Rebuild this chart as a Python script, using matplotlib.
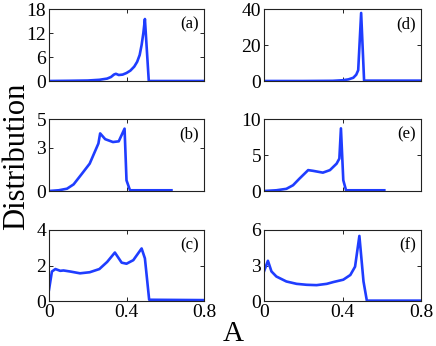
import matplotlib
matplotlib.use("Agg")
import matplotlib.pyplot as plt

plt.rcParams["font.family"] = ["Liberation Serif", "DejaVu Serif"]

LINE_COLOR = "#1f3dff"

# data: A values and distribution values per panel
a_x = [0.0, 0.1, 0.2, 0.26, 0.3, 0.32, 0.335, 0.345, 0.36, 0.38, 0.40, 0.42, 0.44,
       0.455, 0.468, 0.478, 0.487, 0.495, 0.515, 0.8]
a_y = [0.0, 0.05, 0.12, 0.3, 0.6, 1.0, 1.6, 1.8, 1.5, 1.6, 2.0, 2.6, 3.6,
       4.8, 6.5, 9.0, 12.0, 15.5, 0.0, 0.0]

b_x = [0.0, 0.05, 0.093, 0.127, 0.17, 0.21, 0.255, 0.264, 0.29, 0.33, 0.36, 0.39,
       0.40, 0.418, 0.632]
b_y = [0.0, 0.05, 0.16, 0.46, 1.2, 1.9, 3.3, 4.0, 3.6, 3.4, 3.45, 4.33,
       0.74, 0.05, 0.05]

c_x = [0.0, 0.015, 0.033, 0.058, 0.075, 0.11, 0.16, 0.21, 0.26, 0.30, 0.34, 0.375,
       0.40, 0.435, 0.478, 0.495, 0.517, 0.8]
c_y = [0.63, 1.66, 1.8, 1.7, 1.72, 1.66, 1.56, 1.62, 1.8, 2.2, 2.73, 2.16,
       2.1, 2.3, 2.96, 2.4, 0.07, 0.05]

d_x = [0.0, 0.2, 0.35, 0.40, 0.43, 0.455, 0.47, 0.48, 0.495, 0.51, 0.8]
d_y = [0.0, 0.0, 0.1, 0.4, 0.9, 1.8, 3.5, 6.0, 37.8, 0.2, 0.2]

e_x = [0.0, 0.063, 0.114, 0.148, 0.18, 0.225, 0.25, 0.30, 0.336, 0.37, 0.384,
       0.392, 0.404, 0.418, 0.613]
e_y = [0.0, 0.1, 0.3, 0.8, 1.7, 2.9, 2.8, 2.55, 2.9, 3.8, 4.5,
       8.7, 1.5, 0.1, 0.1]

f_x = [0.0, 0.02, 0.038, 0.063, 0.114, 0.166, 0.217, 0.268, 0.32, 0.353, 0.404,
       0.44, 0.464, 0.486, 0.507, 0.524, 0.8]
f_y = [2.5, 3.4, 2.5, 2.07, 1.65, 1.45, 1.37, 1.34, 1.45, 1.6, 1.8,
       2.2, 2.9, 5.5, 1.65, 0.03, 0.03]

panels = [
    ("(a)", a_x, a_y, [0, 6, 12, 18]),
    ("(b)", b_x, b_y, [0, 3, 5]),
    ("(c)", c_x, c_y, [0, 2, 4]),
    ("(d)", d_x, d_y, [0, 20, 40]),
    ("(e)", e_x, e_y, [0, 5, 10]),
    ("(f)", f_x, f_y, [0, 3, 6]),
]

fig = plt.figure(figsize=(4.36, 3.46), dpi=100)

W, H = 436.0, 346.0
cols = [(49, 155), (264, 157)]
rows = [(9, 81), (119, 191), (230, 301)]

for i, (tag, xs, ys, yt) in enumerate(panels):
    c, r = divmod(i, 3)
    x0, w = cols[c]
    top, bot = rows[r]
    ax = fig.add_axes([x0 / W, 1 - bot / H, w / W, (bot - top) / H])
    ax.plot(xs, ys, color=LINE_COLOR, lw=1.9, solid_joinstyle="round")
    ax.set_xlim(0, 0.8)
    ax.set_ylim(yt[0], yt[-1])
    ax.set_yticks(yt)
    ax.set_xticks([0, 0.4, 0.8])
    ax.tick_params(direction="in", top=True, right=True, length=3, width=0.6,
                   labelsize=14, pad=2)
    if r == 2:
        ax.set_xticklabels(["0", "0.4", "0.8"])
    else:
        ax.set_xticklabels([])
    for sp in ax.spines.values():
        sp.set_linewidth(0.8)
        sp.set_color("#222222")
    ax.text(0.97, 0.78, tag, transform=ax.transAxes, ha="right", va="center",
            fontsize=12)

fig.text(2 / W, 1 - 156 / H, "Distribution", rotation=90, ha="left",
         va="center", fontsize=22)
fig.text(233 / W, 1 - 334 / H, "A", ha="center", va="center", fontsize=21)

fig.savefig("out.png", dpi=100, facecolor="white")
